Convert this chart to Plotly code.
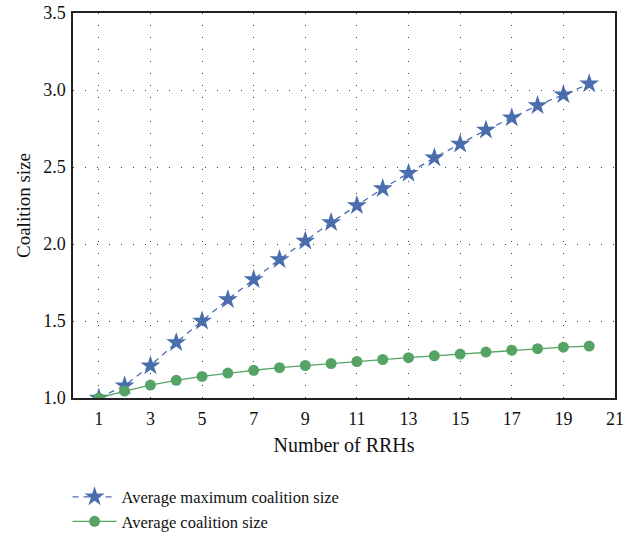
import plotly.graph_objects as go

rrhs = list(range(1, 21))
avg_max_coalition = [1.00, 1.08, 1.21, 1.36, 1.50, 1.64, 1.77, 1.90, 2.02, 2.14,
                     2.25, 2.36, 2.46, 2.56, 2.65, 2.74, 2.82, 2.90, 2.97, 3.04]
avg_coalition = [1.00, 1.045, 1.084, 1.115, 1.140, 1.162, 1.180, 1.197, 1.211, 1.224,
                 1.237, 1.250, 1.262, 1.274, 1.285, 1.298, 1.310, 1.320, 1.330, 1.337]
x_ticks = list(range(1, 22, 2))
y_ticks = [1.0, 1.5, 2.0, 2.5, 3.0, 3.5]

FONT = "Liberation Serif"
BLUE = "#4A6DAD"
GREEN = "#55A466"

fig = go.Figure()
fig.add_trace(go.Scatter(
    x=rrhs, y=avg_max_coalition, mode="lines+markers",
    name="Average maximum coalition size",
    line=dict(color=BLUE, width=1.3, dash="6px,5px"),
    marker=dict(symbol="star", size=15, color=BLUE),
))
fig.add_trace(go.Scatter(
    x=rrhs, y=avg_coalition, mode="lines+markers",
    name="Average coalition size",
    line=dict(color=GREEN, width=1.3),
    marker=dict(symbol="circle", size=11, color=GREEN),
))

fig.update_layout(
    width=625, height=536,
    margin=dict(l=73, r=10, t=13, b=138, autoexpand=False),
    paper_bgcolor="white", plot_bgcolor="white",
    font=dict(family=FONT, size=18, color="#111"),
    showlegend=True,
    legend=dict(x=-0.01, y=-0.212, xanchor="left", yanchor="top",
                bgcolor="rgba(0,0,0,0)", font=dict(size=16.5, family=FONT),
                itemwidth=44, tracegroupgap=0),
)
fig.update_xaxes(
    range=[0, 21], tickvals=x_ticks, ticktext=[str(v) for v in x_ticks],
    showgrid=True, gridcolor="#444", gridwidth=1, griddash="1px,11px",
    showline=True, linecolor="#222", linewidth=1.5, mirror=True,
    ticks="outside", ticklen=4, tickcolor="rgba(0,0,0,0)", zeroline=False,
    automargin=False,
    title=dict(text="Number of RRHs", font=dict(size=20, family=FONT), standoff=10),
)
fig.update_yaxes(
    range=[1.0, 3.5], tickvals=y_ticks, ticktext=["%.1f" % v for v in y_ticks],
    showgrid=True, gridcolor="#444", gridwidth=1, griddash="1px,11px",
    showline=True, linecolor="#222", linewidth=1.5, mirror=True,
    ticks="outside", ticklen=2, tickcolor="rgba(0,0,0,0)", zeroline=False,
    automargin=False,
    title=dict(text="Coalition size", font=dict(size=19, family=FONT), standoff=8),
)

fig.write_html("out.html", config={"displayModeBar": False})

with open("out.html", "r", encoding="utf-8") as f:
    html = f.read()
html = html.replace("<head>", "<head><style>html,body{margin:0;padding:0;overflow:hidden;}</style>", 1)
with open("out.html", "w", encoding="utf-8") as f:
    f.write(html)
